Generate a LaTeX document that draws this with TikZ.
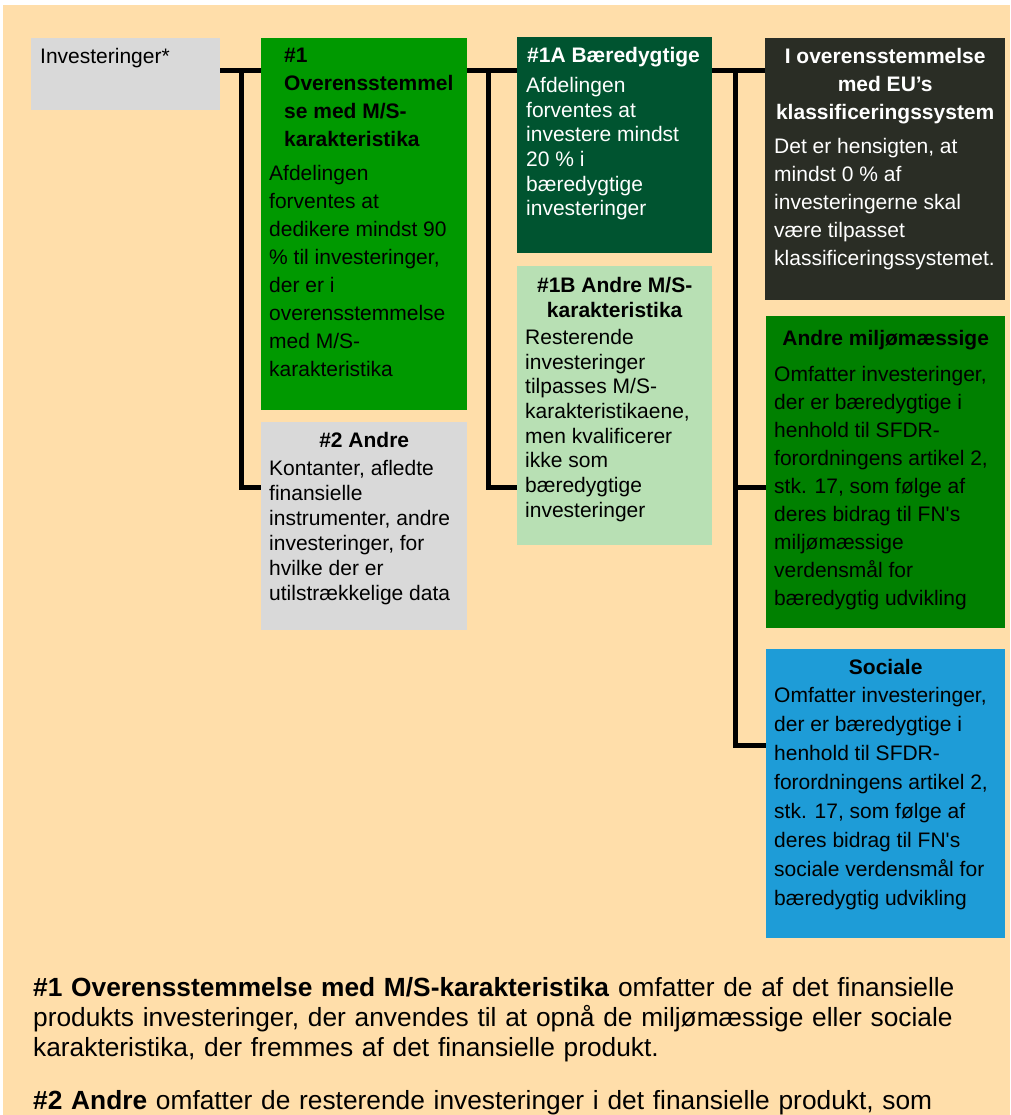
\documentclass[tikz,border=0pt]{standalone}
\usepackage{fontspec}
\setmainfont{Liberation Sans}
\usepackage{xcolor}
\usepackage{tikz}

\definecolor{fersken}{HTML}{FFDEAA}
\definecolor{graa}{HTML}{D9D9D9}
\definecolor{groen}{HTML}{009900}
\definecolor{moerkgroen}{HTML}{005430}
\definecolor{lysgroen}{HTML}{B8E0B4}
\definecolor{eumoerk}{HTML}{2A2D25}
\definecolor{miljoe}{HTML}{008000}
\definecolor{social}{HTML}{1E9CD7}

% [linjeafstand]{hoejde}{bredde}{tekst}
\newcommand{\kasse}[4][28pt]{\parbox[t][#2][t]{#3}{\fontsize{21pt}{#1}\selectfont\vspace*{10pt}#4}}
\newcommand{\titel}[1]{{\centering\bfseries #1\par}}

\begin{document}
\begin{tikzpicture}[x=1pt,y=-1pt,
    kasse node/.style={anchor=north west,inner xsep=8pt,inner ysep=0pt,text=black},
    forbindelse/.style={draw=black,line width=5pt}]
  \useasboundingbox (0,0) rectangle (1010,1115);
  \fill[fersken] (3,5) rectangle (1010,1115);

  % kasser
  \node[kasse node,fill=graa,inner xsep=9pt] (inv) at (31,38)
    {\kasse{72pt}{171pt}{Investeringer*}};
  \node[kasse node,fill=groen] (n1) at (261,38)
    {\kasse{372pt}{190pt}{{\raggedright\bfseries\leftskip=15pt
      \#1\\Overensstemmel\\se med M/S-\\karakteristika\par}\vspace{6pt}
      \raggedright Afdelingen\\forventes at\\dedikere mindst 90\\\% til investeringer,\\der er i\\overensstemmelse\\med M/S-\\karakteristika}};
  \node[kasse node,fill=graa] (n2) at (261,422)
    {\kasse[25pt]{208pt}{190pt}{\titel{\#2 Andre}\vspace{3pt}
      \raggedright Kontanter, afledte\\finansielle\\instrumenter, andre\\investeringer, for\\hvilke der er\\utilstrækkelige data}};
  \node[kasse node,fill=moerkgroen,text=white,inner xsep=9pt] (n1A) at (517,37)
    {\kasse[24.7pt]{216pt}{177pt}{{\raggedright\bfseries\hspace*{1pt}\#1A Bæredygtige\par}\vspace{5.3pt}
      \raggedright Afdelingen\\forventes at\\investere mindst\\20 \% i\\bæredygtige\\investeringer}};
  \node[kasse node,fill=lysgroen] (n1B) at (517,266)
    {\kasse[24.7pt]{279pt}{179pt}{\vspace*{1pt}\titel{\#1B Andre M/S-\\karakteristika}\vspace{2.6pt}
      \raggedright Resterende\\investeringer\\tilpasses M/S-\\karakteristikaene,\\men kvalificerer\\ikke som\\bæredygtige\\investeringer}};
  \node[kasse node,fill=eumoerk,text=white,inner xsep=9pt] (eu) at (765,38)
    {\kasse{262pt}{222pt}{\titel{I overensstemmelse\\med EU’s\\klassificeringssystem}\vspace{6pt}
      \raggedright Det er hensigten, at\\mindst 0 \% af\\investeringerne skal\\være tilpasset\\klassificeringssystemet.}};
  \node[kasse node,fill=miljoe] (miljoe) at (766,316)
    {\kasse{312pt}{223pt}{\vspace*{4pt}\titel{Andre miljømæssige}\vspace{8pt}
      \raggedright Omfatter investeringer,\\der er bæredygtige i\\henhold til SFDR-\\forordningens artikel 2,\\stk. 17, som følge af\\deres bidrag til FN\textquotesingle s\\miljømæssige\\verdensmål for\\bæredygtig udvikling}};
  \node[kasse node,fill=social] (social) at (766,649)
    {\kasse[29pt]{289pt}{223pt}{\titel{Sociale}\vspace{-1pt}
      \raggedright Omfatter investeringer,\\der er bæredygtige i\\henhold til SFDR-\\forordningens artikel 2,\\stk. 17, som følge af\\deres bidrag til FN\textquotesingle s\\sociale verdensmål for\\bæredygtig udvikling}};

  % forklaring
  \node[anchor=north west,inner sep=0pt,text width=975pt,align=left,
        font=\fontsize{26.3pt}{30pt}\selectfont] (fodnote) at (33,977)
    {\textbf{\#1 Overensstemmelse med M/S-karakteristika} omfatter de af det finansielle\\
     produkts investeringer, der anvendes til at opnå de miljømæssige eller sociale\\
     karakteristika, der fremmes af det finansielle produkt.\\[23pt]
     \textbf{\#2 Andre} omfatter de resterende investeringer i det finansielle produkt, som};

  % forbindelser
  \coordinate (s0) at ([yshift=-33pt]inv.north east);
  \coordinate (s1) at ([yshift=-33pt]n1.north east);
  \coordinate (s2) at ([yshift=-34pt]n1A.north east);
  \coordinate (s3) at ([xshift=23pt]s2);
  \coordinate (m0) at ([yshift=-171pt]miljoe.north west);

  \draw[forbindelse] (s0) -- (s0 -| n1.west);
  \draw[forbindelse] ([xshift=21pt]s0) |- ([yshift=-65pt]n2.north west);
  \draw[forbindelse] (s1) -- (s1 -| n1A.west);
  \draw[forbindelse] ([xshift=21pt]s1) |- ([yshift=-221pt]n1B.north west);
  \draw[forbindelse] (s2) -- (s2 -| eu.west);
  \draw[forbindelse] (s3) |- ([yshift=-96pt]social.north west);
  \draw[forbindelse] (m0 -| s3) -- (m0);
\end{tikzpicture}
\end{document}
